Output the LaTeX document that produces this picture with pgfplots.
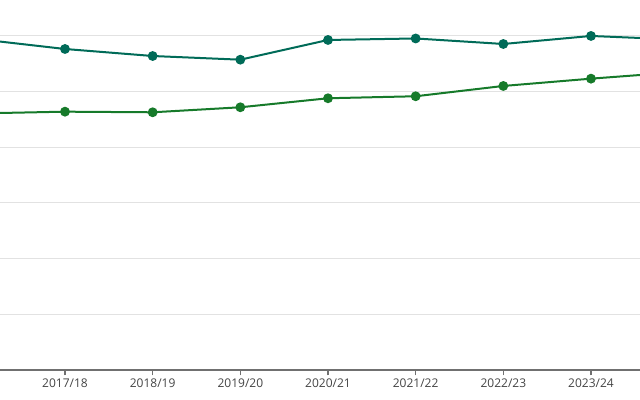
\documentclass[border=0pt]{standalone}
\usepackage{fontspec}
\setmainfont{Open Sans}
\usepackage{pgfplots}
\pgfplotsset{compat=1.18}
\definecolor{teal1}{HTML}{006B58}
\definecolor{green1}{HTML}{167A2A}
\definecolor{gridc}{HTML}{E2E2E2}
\definecolor{axc}{HTML}{707070}
\definecolor{lblc}{HTML}{444444}
\begin{document}
\begin{tikzpicture}
\begin{axis}[
  scale only axis,
  width=480pt, height=277.5pt,
  xmin=0.2586, xmax=7.559,
  ymin=0, ymax=6.646,
  axis line style={draw=none},
  tick style={draw=none},
  ytick={1,2,3,4,5,6},
  yticklabels={},
  ymajorgrids, grid style={gridc, line width=0.75pt},
  xtick=\empty,
  clip=true,
]
\addplot[teal1, line width=1.5pt, mark=*, mark size=2.9pt] coordinates {
 (0,5.946) (1,5.766) (2,5.640) (3,5.574) (4,5.928) (5,5.955) (6,5.856) (7,6.0) (8,5.935)};
\addplot[green1, line width=1.5pt, mark=*, mark size=2.9pt] coordinates {
 (0,4.608) (1,4.640) (2,4.629) (3,4.719) (4,4.881) (5,4.917) (6,5.102) (7,5.233) (8,5.351)};
\end{axis}
\begin{axis}[
  scale only axis,
  width=480pt, height=277.5pt,
  xmin=0.2586, xmax=7.559,
  ymin=0, ymax=6.646,
  axis x line=bottom, axis y line=none,
  x axis line style={axc, line width=1.5pt, -},
  xtick={1,2,3,4,5,6,7},
  xticklabels={2017/18,2018/19,2019/20,2020/21,2021/22,2022/23,2023/24},
  major tick length=4pt,
  tick style={axc, line width=0.9pt},
  xtick pos=bottom, tick align=outside,
  ticklabel style={font=\fontsize{9}{10}\selectfont, text=lblc},
  xticklabel style={yshift=1pt},
  ytick=\empty,
]
\end{axis}
\pgfresetboundingbox
\path[use as bounding box] (current axis.south west) ++(0,-22.5pt) rectangle (current axis.north east);
\end{tikzpicture}
\end{document}
